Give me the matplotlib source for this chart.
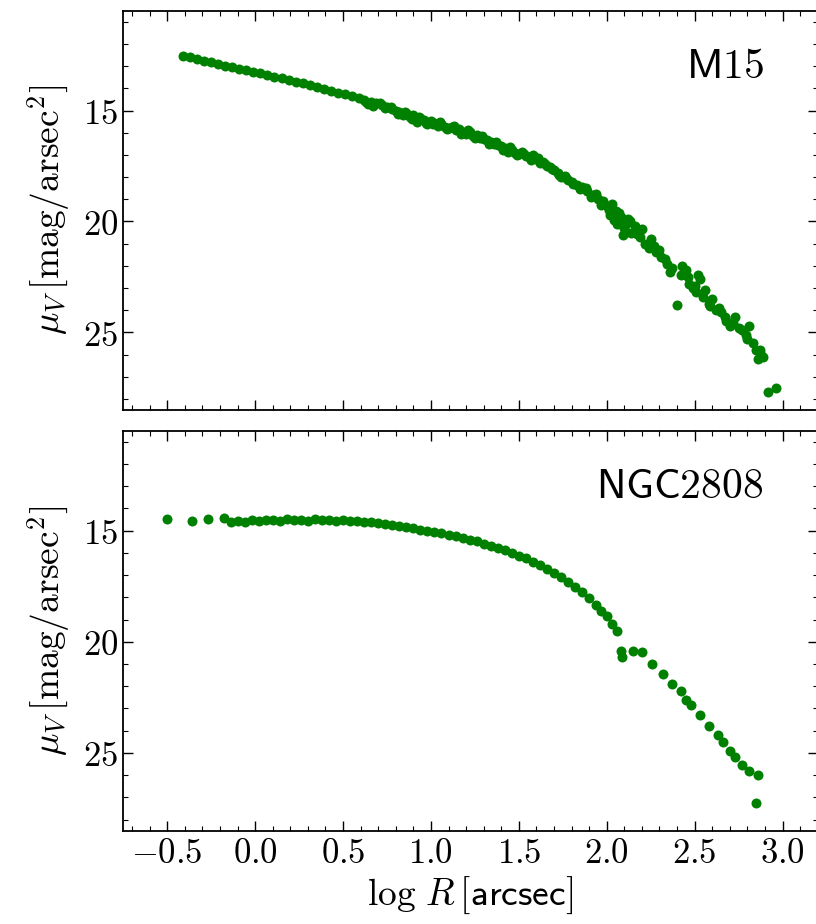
import numpy as np
import matplotlib
matplotlib.use("Agg")
import matplotlib.pyplot as plt
from matplotlib.ticker import MultipleLocator, FuncFormatter

plt.rcParams['mathtext.fontset'] = 'cm'

# M15 surface brightness profile
m15_logr = [-0.41, -0.37, -0.33, -0.29, -0.25, -0.21, -0.17, -0.13, -0.09, -0.05,
            -0.01, 0.03, 0.07, 0.11, 0.15, 0.19, 0.23, 0.27, 0.31, 0.35,
            0.39, 0.43, 0.47, 0.51, 0.55, 0.59,
            0.62, 0.64, 0.66, 0.69, 0.72, 0.75, 0.78, 0.80, 0.82, 0.84,
            0.86, 0.88, 0.90, 0.92, 0.94, 0.96, 0.98, 1.00, 1.02, 1.04,
            1.06, 1.08, 1.10, 1.12, 1.14, 1.16, 1.18, 1.20, 1.22, 1.24,
            1.26, 1.28, 1.30, 1.32, 1.34, 1.36, 1.38, 1.40, 1.42, 1.44,
            1.46, 1.48, 1.50, 1.52, 1.54, 1.56, 1.58, 1.60, 1.62, 1.64,
            1.66, 1.68, 1.70, 1.72, 1.74, 1.76, 1.78, 1.80, 1.83, 1.86,
            1.89, 1.92, 1.95, 1.98,
            2.00, 2.02, 2.03, 2.05, 2.06, 2.08, 2.10, 2.12, 2.14, 2.16,
            2.19, 2.22, 2.25, 2.28, 2.31, 2.34, 2.37, 2.40, 2.42, 2.45,
            2.47, 2.49, 2.51, 2.53, 2.55, 2.58, 2.59, 2.62, 2.65, 2.68,
            2.70, 2.73, 2.75, 2.80, 2.81, 2.85, 2.87, 2.86, 2.89, 2.92, 2.96,
            0.63, 0.67, 0.71, 0.74, 0.77, 0.81, 0.85, 0.89, 0.93, 0.97,
            1.01, 1.05, 1.09, 1.13, 1.17, 1.21, 1.25, 1.29, 1.33, 1.37,
            1.41, 1.45, 1.49, 1.53, 1.57, 1.61, 1.65, 1.69, 1.73, 1.77,
            1.81, 1.85, 1.88, 1.91, 1.94, 1.97, 2.01, 2.04, 2.07, 2.09,
            2.11, 2.13, 2.17, 2.20, 2.24, 2.27, 2.30, 2.33, 2.36, 2.43,
            2.46, 2.50, 2.52, 2.56, 2.60, 2.64, 2.67, 2.72, 2.77, 2.79,
            2.83, 2.88]
m15_mu = [12.53, 12.60, 12.68, 12.75, 12.82, 12.89, 12.97, 13.04, 13.11, 13.18,
          13.26, 13.33, 13.40, 13.47, 13.55, 13.62, 13.70, 13.78, 13.86, 13.94,
          14.02, 14.10, 14.19, 14.27, 14.36, 14.45,
          14.52, 14.70, 14.60, 14.68, 14.75, 14.82, 14.92, 15.00, 15.06, 15.20,
          15.12, 15.30, 15.22, 15.50, 15.35, 15.42, 15.60, 15.48, 15.55, 15.70,
          15.62, 15.72, 15.80, 15.75, 15.90, 15.85, 15.98, 16.05, 15.95, 16.15,
          16.10, 16.25, 16.30, 16.35, 16.42, 16.50, 16.55, 16.62, 16.70, 16.85,
          16.78, 16.90, 16.95, 16.88, 17.05, 17.10, 17.00, 17.20, 17.35, 17.30,
          17.50, 17.55, 17.70, 17.80, 18.00, 17.95, 18.15, 18.20, 18.35, 18.45,
          18.65, 18.80, 19.00, 19.10,
          19.30, 19.70, 19.20, 19.55, 20.10, 19.80, 20.30, 19.90, 20.50, 20.20,
          20.70, 21.00, 20.80, 21.40, 21.60, 21.90, 22.10, 23.75, 22.40, 22.20,
          22.80, 23.00, 23.20, 22.60, 23.40, 23.70, 23.80, 24.00, 24.10, 24.50,
          24.70, 24.30, 24.80, 25.30, 24.70, 25.80, 25.80, 26.20, 26.10, 27.70, 27.50,
          14.62, 14.78, 14.65, 14.90, 14.85, 15.15, 15.05, 15.40, 15.28, 15.55,
          15.62, 15.50, 15.85, 15.68, 16.05, 15.88, 16.22, 16.15, 16.50, 16.40,
          16.78, 16.65, 17.02, 16.98, 17.22, 17.12, 17.40, 17.62, 17.90, 18.05,
          18.30, 18.55, 18.50, 18.90, 18.75, 19.25, 19.50, 19.95, 19.60, 20.60,
          20.10, 20.00, 20.55, 20.35, 21.20, 21.10, 21.30, 21.70, 22.30, 22.00,
          22.50, 22.90, 22.40, 23.10, 23.50, 23.90, 24.30, 24.60, 24.90, 25.10,
          25.50, 26.00]

# NGC2808 surface brightness profile
n2808_logr = [-0.50, -0.36, -0.27, -0.18, -0.14, -0.10, -0.06, -0.02, 0.02, 0.06,
              0.10, 0.14, 0.18, 0.22, 0.26, 0.30, 0.34, 0.38, 0.42, 0.46,
              0.50, 0.54, 0.58, 0.62, 0.66, 0.70, 0.74, 0.78, 0.82, 0.86,
              0.90, 0.94, 0.98, 1.02, 1.06, 1.10, 1.14, 1.18, 1.22, 1.26,
              1.30, 1.34, 1.38, 1.42, 1.46, 1.50, 1.54, 1.58, 1.62, 1.66,
              1.70, 1.74, 1.78, 1.82, 1.86, 1.90, 1.94, 1.97, 2.00, 2.03,
              2.06, 2.08, 2.085, 2.15, 2.20, 2.26, 2.32, 2.37, 2.42, 2.45,
              2.48, 2.53, 2.58, 2.63, 2.66, 2.70, 2.73, 2.77, 2.81, 2.86, 2.85]
n2808_mu = [14.49, 14.57, 14.48, 14.45, 14.62, 14.55, 14.60, 14.50, 14.55, 14.52,
            14.50, 14.55, 14.48, 14.52, 14.50, 14.55, 14.48, 14.52, 14.50, 14.55,
            14.52, 14.55, 14.58, 14.60, 14.62, 14.66, 14.70, 14.75, 14.80, 14.85,
            14.90, 14.95, 15.00, 15.05, 15.10, 15.18, 15.25, 15.32, 15.40, 15.48,
            15.58, 15.68, 15.78, 15.88, 16.00, 16.12, 16.25, 16.40, 16.55, 16.72,
            16.90, 17.08, 17.30, 17.52, 17.78, 18.05, 18.35, 18.60, 18.85, 19.20,
            19.50, 20.40, 20.70, 20.40, 20.45, 21.00, 21.45, 21.90, 22.20, 22.60,
            22.85, 23.30, 23.80, 24.20, 24.50, 24.90, 25.20, 25.55, 25.80, 26.00, 27.25]

fs = 25
fig = plt.figure(figsize=(8.16, 9.24), dpi=100)
ax1 = fig.add_axes([0.1511, 0.5563, 0.851, 0.4321])
ax2 = fig.add_axes([0.1511, 0.1010, 0.851, 0.4329])

for ax, x, y, name in [(ax1, m15_logr, m15_mu, 'M15'), (ax2, n2808_logr, n2808_mu, 'NGC2808')]:
    ax.plot(x, y, 'o', color='green', markersize=7.2, markeredgewidth=0)
    ax.set_xlim(-0.75, 3.2)
    ax.set_ylim(28.5, 10.5)
    ax.xaxis.set_major_locator(MultipleLocator(0.5))
    ax.xaxis.set_minor_locator(MultipleLocator(0.1))
    ax.yaxis.set_major_locator(MultipleLocator(5))
    ax.yaxis.set_minor_locator(MultipleLocator(1))
    ax.tick_params(which='both', direction='in', top=True, right=True, labelsize=fs)
    ax.tick_params(which='major', length=7, width=1)
    ax.tick_params(which='minor', length=3.5, width=0.8)
    ax.yaxis.set_major_formatter(FuncFormatter(lambda v, p: r'$%d$' % v))
    ax.set_ylabel(r'$\mu_V\,[\mathrm{mag/arsec}^2]$', fontsize=27, labelpad=8)
    for s in ax.spines.values():
        s.set_linewidth(1.3)
    ax.text(0.922, 0.915, r'$\mathsf{%s}$' % name, transform=ax.transAxes,
            ha='right', va='top', fontsize=30)

ax1.tick_params(labelbottom=False)
ax2.xaxis.set_major_formatter(FuncFormatter(lambda v, p: r'$%.1f$' % v))
ax2.set_xlabel(r'$\log\,R\,[\mathsf{arcsec}]$', fontsize=27)

plt.savefig("out.png", dpi=100)
